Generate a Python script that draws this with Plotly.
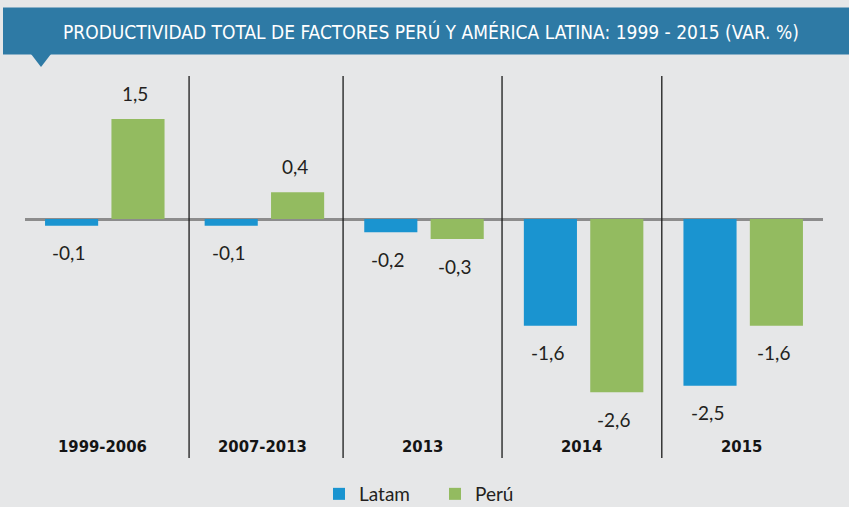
import plotly.graph_objects as go

# ---- data ----
categories = ["1999-2006", "2007-2013", "2013", "2014", "2015"]
latam = [-0.1, -0.1, -0.2, -1.6, -2.5]
peru = [1.5, 0.4, -0.3, -2.6, -1.6]
series_names = ["Latam", "Perú"]
title_text = "PRODUCTIVIDAD TOTAL DE FACTORES PERÚ Y AMÉRICA LATINA: 1999 - 2015 (VAR. %)"

# ---- styling / layout constants ----
W, H = 849, 507
ML, MR, MT, MB = 25, 26, 76, 49
BG = "#e6e7e8"
BLUE = "#1a94d0"
GREEN = "#93bb60"
BANNER = "#2e7aa5"
TXT = "#231f20"

def px_x(p):
    return (p - ML) / (W - ML - MR)

def px_y(p):
    return (H - MB - p) / (H - MT - MB)

def fmt(v):
    return f"{v:.1f}".replace(".", ",")

fig = go.Figure()
fig.add_trace(go.Bar(x=categories, y=latam, name=series_names[0],
                     marker=dict(color=BLUE, line=dict(width=0))))
fig.add_trace(go.Bar(x=categories, y=peru, name=series_names[1],
                     marker=dict(color=GREEN, line=dict(width=0))))

annotations = []
half = 0.208
for i, (a, b) in enumerate(zip(latam, peru)):
    for off, v in ((-half, a), (half, b)):
        annotations.append(dict(
            x=i + off, y=v, xref="x", yref="y", text=fmt(v), showarrow=False,
            xshift=-3, yshift=26 if v > 0 else -27,
            font=dict(family="Lato, Open Sans, sans-serif", size=19, color=TXT),
            xanchor="center", yanchor="middle"))
    annotations.append(dict(
        x=i, y=px_y(446.5), xref="x", yref="paper", text=categories[i], showarrow=False,
        xshift=-2,
        font=dict(family="DejaVu Sans Condensed, DejaVu Sans, sans-serif", size=16.5,
                  color="#141414", weight="bold"),
        xanchor="center", yanchor="middle"))

annotations.append(dict(
    x=px_x(431), y=px_y(32), xref="paper", yref="paper", text=title_text,
    showarrow=False, xanchor="center", yanchor="middle",
    font=dict(family="DejaVu Sans Condensed, Liberation Sans Narrow, sans-serif",
              size=19, color="white")))

shapes = []
# banner
shapes.append(dict(type="rect", xref="paper", yref="paper",
                   x0=px_x(3), x1=px_x(849), y0=px_y(54.5), y1=px_y(7.5),
                   fillcolor=BANNER, line=dict(width=0), layer="above"))
shapes.append(dict(type="path", xref="paper", yref="paper",
                   path=f"M {px_x(31)},{px_y(54)} L {px_x(51)},{px_y(54)} L {px_x(41)},{px_y(67)} Z",
                   fillcolor=BANNER, line=dict(width=0), layer="above"))
# separators between groups
for s in [0.528, 1.493, 2.489, 3.49]:
    shapes.append(dict(type="line", xref="x", yref="paper", x0=s, x1=s, y0=0, y1=1,
                       line=dict(color="#1a1a1a", width=1.3), layer="above"))

fig.update_layout(
    width=W, height=H,
    margin=dict(l=ML, r=MR, t=MT, b=MB, pad=0, autoexpand=False),
    paper_bgcolor=BG, plot_bgcolor=BG,
    barmode="group", bargap=0.168, bargroupgap=0.2,
    showlegend=True,
    legend=dict(orientation="h", x=px_x(319), xanchor="left", y=px_y(494),
                yanchor="middle", bgcolor="rgba(0,0,0,0)", entrywidth=71,
                font=dict(family="Lato, Open Sans, sans-serif", size=19, color=TXT)),
    xaxis=dict(range=[-0.5, 4.5], showticklabels=False, showgrid=False,
               zeroline=False, showline=False, ticks=""),
    yaxis=dict(range=[(219 - 458) / 66.67, (219 - 76) / 66.67], showticklabels=False,
               showgrid=False, zeroline=True, zerolinecolor="#8c8c8c", zerolinewidth=3,
               showline=False, ticks=""),
    annotations=annotations, shapes=shapes,
)

fig.write_html("out.html", config={"displayModeBar": False},
               post_script="document.body.style.margin='0';")
